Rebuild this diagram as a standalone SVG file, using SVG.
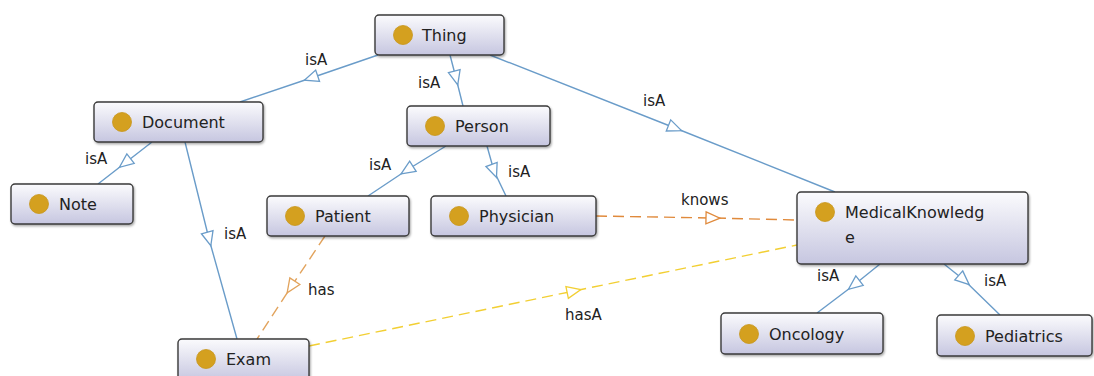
<svg xmlns="http://www.w3.org/2000/svg" width="1094" height="376" viewBox="0 0 1094 376">
  <defs>
    <linearGradient id="boxFill" x1="0" y1="0" x2="0" y2="1">
      <stop offset="0" stop-color="#fbfbfd"/>
      <stop offset="1" stop-color="#c6c6e0"/>
    </linearGradient>
    <filter id="shadow" x="-10%" y="-10%" width="120%" height="140%">
      <feDropShadow dx="1" dy="1.5" stdDeviation="1" flood-color="#000" flood-opacity="0.35"/>
    </filter>
    <marker id="triBlue" markerUnits="userSpaceOnUse" markerWidth="18" markerHeight="16" refX="7" refY="0" viewBox="-2 -8 18 16" orient="auto">
      <path d="M0,-6 L14,0 L0,6 Z" fill="#fff" stroke="#6a9cc9" stroke-width="1.3"/>
    </marker>
    <marker id="triOrange" markerUnits="userSpaceOnUse" markerWidth="18" markerHeight="16" refX="7" refY="0" viewBox="-2 -8 18 16" orient="auto">
      <path d="M0,-6 L14,0 L0,6 Z" fill="#fff" stroke="#e08a3c" stroke-width="1.3"/>
    </marker>
    <marker id="triTan" markerUnits="userSpaceOnUse" markerWidth="18" markerHeight="16" refX="7" refY="0" viewBox="-2 -8 18 16" orient="auto">
      <path d="M0,-6 L14,0 L0,6 Z" fill="#fff" stroke="#e2a35c" stroke-width="1.3"/>
    </marker>
    <marker id="triYellow" markerUnits="userSpaceOnUse" markerWidth="18" markerHeight="16" refX="7" refY="0" viewBox="-2 -8 18 16" orient="auto">
      <path d="M0,-6 L14,0 L0,6 Z" fill="#fff" stroke="#f2cf33" stroke-width="1.3"/>
    </marker>
  </defs>
  <style>
    .box { fill: url(#boxFill); stroke: #3a3a3a; stroke-width: 1.4; filter: url(#shadow); }
    .dot { fill: #d4a01f; stroke: #c8961a; stroke-width: 0.8; }
    .name { font-family: "DejaVu Sans", "Liberation Sans", sans-serif; font-size: 16px; fill: #222; }
    .lbl { font-family: "DejaVu Sans", "Liberation Sans", sans-serif; font-size: 15px; fill: #222; }
    .isa { fill: none; stroke: #6a9cc9; stroke-width: 1.4; marker-mid: url(#triBlue); }
    .knows { fill: none; stroke: #e08a3c; stroke-width: 1.4; stroke-dasharray: 11 6; marker-mid: url(#triOrange); }
    .has { fill: none; stroke: #e2a35c; stroke-width: 1.4; stroke-dasharray: 11 6; marker-mid: url(#triTan); }
    .hasA { fill: none; stroke: #f2cf33; stroke-width: 1.4; stroke-dasharray: 11 6; marker-mid: url(#triYellow); }
  </style>
  <rect width="1094" height="376" fill="#fff"/>

  <g id="connectors">
    <path class="isa" d="M378,55 L311,78 L240,102"/>
    <path class="isa" d="M450,55 L456,78 L463,106"/>
    <path class="isa" d="M490,55 L675,128 L835,192"/>
    <path class="isa" d="M152,142 L125,163 L98,184"/>
    <path class="isa" d="M185,142 L209,239 L237,339"/>
    <path class="isa" d="M446,146 L407,170 L368,196"/>
    <path class="isa" d="M487,146 L494,171 L506,196"/>
    <path class="isa" d="M880,264 L854,285 L817,313"/>
    <path class="isa" d="M944,264 L964,280 L1000,315"/>
    <path class="knows" d="M596,216 L713,218 L797,220"/>
    <path class="has" d="M325,236 L291,287 L257,339"/>
    <path class="hasA" d="M309,346 L574,291 L797,245"/>
    <g id="edge-labels">
      <text class="lbl" x="305" y="65">isA</text>
      <text class="lbl" x="418" y="88">isA</text>
      <text class="lbl" x="643" y="106">isA</text>
      <text class="lbl" x="85" y="164">isA</text>
      <text class="lbl" x="224" y="239">isA</text>
      <text class="lbl" x="369" y="170">isA</text>
      <text class="lbl" x="508" y="177">isA</text>
      <text class="lbl" x="681" y="205">knows</text>
      <text class="lbl" x="308" y="295">has</text>
      <text class="lbl" x="565" y="320">hasA</text>
      <text class="lbl" x="817" y="281">isA</text>
      <text class="lbl" x="984" y="286">isA</text>
    </g>
  </g>

  <g id="node-thing">
    <rect class="box" x="375" y="15" width="129" height="40" rx="4"/>
    <circle class="dot" cx="403" cy="35" r="9.5"/>
    <text class="name" x="422" y="41">Thing</text>
  </g>
  <g id="node-document">
    <rect class="box" x="94" y="102" width="169" height="40" rx="4"/>
    <circle class="dot" cx="122" cy="122" r="9.5"/>
    <text class="name" x="142" y="128">Document</text>
  </g>
  <g id="node-person">
    <rect class="box" x="407" y="106" width="143" height="40" rx="4"/>
    <circle class="dot" cx="435" cy="126" r="9.5"/>
    <text class="name" x="455" y="132">Person</text>
  </g>
  <g id="node-note">
    <rect class="box" x="11" y="184" width="122" height="40" rx="4"/>
    <circle class="dot" cx="39" cy="204" r="9.5"/>
    <text class="name" x="59" y="210">Note</text>
  </g>
  <g id="node-patient">
    <rect class="box" x="267" y="196" width="142" height="40" rx="4"/>
    <circle class="dot" cx="295" cy="216" r="9.5"/>
    <text class="name" x="315" y="222">Patient</text>
  </g>
  <g id="node-physician">
    <rect class="box" x="431" y="196" width="165" height="40" rx="4"/>
    <circle class="dot" cx="459" cy="216" r="9.5"/>
    <text class="name" x="479" y="222">Physician</text>
  </g>
  <g id="node-medicalknowledge">
    <rect class="box" x="797" y="192" width="231" height="72" rx="4"/>
    <circle class="dot" cx="825" cy="212" r="9.5"/>
    <text class="name" x="845" y="218">MedicalKnowledg</text>
    <text class="name" x="845" y="243">e</text>
  </g>
  <g id="node-oncology">
    <rect class="box" x="721" y="313" width="162" height="41" rx="4"/>
    <circle class="dot" cx="749" cy="334" r="9.5"/>
    <text class="name" x="769" y="340">Oncology</text>
  </g>
  <g id="node-pediatrics">
    <rect class="box" x="937" y="315" width="155" height="41" rx="4"/>
    <circle class="dot" cx="965" cy="336" r="9.5"/>
    <text class="name" x="985" y="342">Pediatrics</text>
  </g>
  <g id="node-exam">
    <rect class="box" x="178" y="339" width="131" height="42" rx="4"/>
    <circle class="dot" cx="206" cy="359" r="9.5"/>
    <text class="name" x="226" y="365">Exam</text>
  </g>
</svg>
